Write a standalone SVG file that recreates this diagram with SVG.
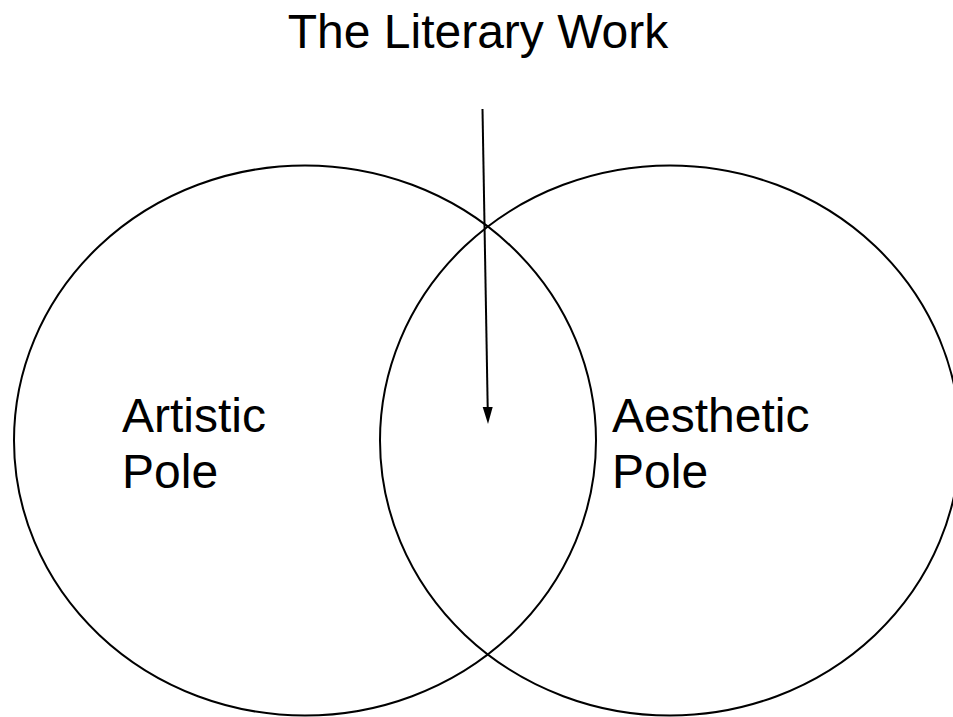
<svg xmlns="http://www.w3.org/2000/svg" width="953" height="717" viewBox="0 0 953 717">
<style>
.c{fill:none;stroke:#000;stroke-width:2}
.t{font-family:"Liberation Sans",Arial,sans-serif;font-size:48px;fill:#000}
</style>
<defs>
<marker id="ah" markerWidth="10" markerHeight="16" refX="5" refY="16" orient="auto-start-reverse" markerUnits="userSpaceOnUse" viewBox="0 0 10 16">
<path d="M0,0 L10,0 L5,16 Z" fill="#000" transform="rotate(0)"/>
</marker>
</defs>
<rect width="953" height="717" fill="#fff"/>
<g id="title"><text class="t" x="478" y="48" text-anchor="middle">The Literary Work</text></g>
<g id="artistic">
<ellipse class="c" cx="305" cy="440.5" rx="291" ry="275"/>
<text class="t" x="122" y="432">Artistic</text>
<text class="t" x="122" y="488">Pole</text>
</g>
<g id="aesthetic">
<ellipse class="c" cx="670" cy="440.5" rx="290" ry="275"/>
<text class="t" x="612" y="432">Aesthetic</text>
<text class="t" x="612" y="488">Pole</text>
</g>
<g id="connectors">
<line x1="482.5" y1="109" x2="487.7" y2="408" stroke="#000" stroke-width="2"/>
<path d="M482.7,407 L492.7,407 L488,424 Z" fill="#000"/>
</g>
</svg>
